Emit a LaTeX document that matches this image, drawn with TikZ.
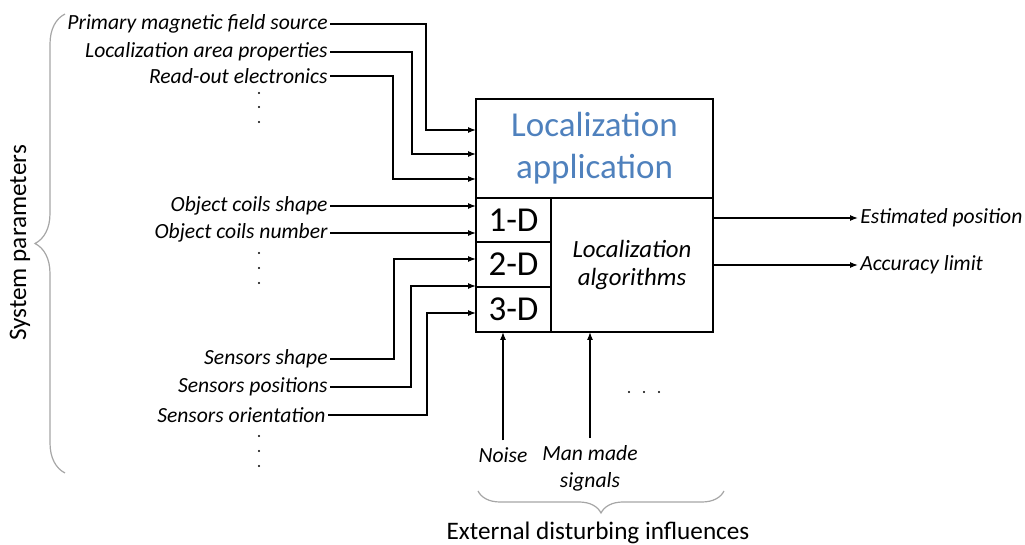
\documentclass[tikz,border=0pt]{standalone}
\usepackage{fontspec}
\setmainfont{Carlito}
\usetikzlibrary{arrows.meta,decorations.pathreplacing,fit}
\definecolor{appblue}{HTML}{4F81BD}
\definecolor{bracegray}{HTML}{A6A6A6}

\begin{document}
\begin{tikzpicture}[x=0.5pt,y=-0.5pt,>={Latex[length=4pt,width=3pt]},
                   every node/.style={font=\fontsize{10.8}{12}\selectfont\itshape},
                   param/.style={anchor=east,inner sep=1pt},
                   cell/.style={draw,line width=0.6pt,outer sep=0pt,inner sep=0pt,
                                font=\fontsize{17.5}{21}\selectfont},
                   link/.style={->,line width=0.6pt},
                   dot/.style={fill=black},
                   grouping/.style={draw=bracegray,line width=0.6pt,decorate,
                                    decoration={brace,amplitude=#1}},
                   caption/.style={font=\fontsize{12.6}{14}\selectfont}]
\useasboundingbox (0,0) rectangle (1025,545);

% the block and its parts
\node[cell,minimum width=118.5pt,minimum height=49.5pt,text=appblue,align=center]
  (app) at (594.5,148.5) {Localization\\application};
\node[cell,minimum width=37.5pt,minimum height=22pt] (d1) at (513.5,220) {1-D};
\node[cell,minimum width=37.5pt,minimum height=22.5pt] (d2) at (513.5,264.5) {2-D};
\node[cell,minimum width=37.5pt,minimum height=22.5pt] (d3) at (513.5,309.5) {3-D};
\node[cell,minimum width=81pt,minimum height=67pt,align=center,
      font=\fontsize{12.4}{14}\selectfont\itshape] (algo) at (632,265) {Localization\\algorithms};
\node[draw,line width=1pt,inner sep=0pt,fit=(app)(d3)(algo)] (frame) {};

\foreach \n/\y in {1/130,2/154,3/179,4/206,5/233,6/259,7/286,8/313}
  \coordinate (in\n) at (476,\y);

% system parameters
\node[param] (src) at (330,24) {Primary magnetic field source};
\node[param] (area) at (330,52) {Localization area properties};
\node[param] (elec) at (330,76) {Read-out electronics};
\node[param] (shape) at (330,206) {Object coils shape};
\node[param] (number) at (330,233) {Object coils number};
\node[param] (sshape) at (330,359) {Sensors shape};
\node[param] (spos) at (330,387) {Sensors positions};
\node[param] (sorient) at (328,415) {Sensors orientation};

\foreach \lbl/\dx/\tgt in {src/96/in1,area/82/in2,elec/63/in3,
                           sshape/64/in6,spos/81/in7,sorient/99/in8}
  \draw[link] (\lbl.east) -- ++(\dx,0) |- (\tgt);
\draw[link] (shape.east) -- (in4);
\draw[link] (number.east) -- (in5);

% more parameters
\foreach \y in {93,107,122,253,268,283,436,451,466}
  \fill[dot] (259,\y) circle (0.6pt);

\draw[grouping=15pt] (65,473) -- (65,14);
\node[caption,rotate=90] (sys) at (20,243) {System parameters};

% outputs
\coordinate (out1) at (713,218);
\coordinate (out2) at (713,265);
\node[anchor=west,inner sep=1pt] (est) at (858,218) {Estimated position};
\node[anchor=west,inner sep=1pt] (acc) at (858,265) {Accuracy limit};
\draw[link] (out1) -- (est.west);
\draw[link] (out2) -- (acc.west);

% disturbing influences
\coordinate (nz) at (503,332);
\coordinate (mm) at (590,332);
\node (noise) at (503,455) {Noise};
\node[align=center,font=\fontsize{10.8}{13.5}\selectfont\itshape] (manmade) at (590,468) {Man made\\signals};
\draw[link] (noise.north) -- (nz);
\draw[link] (manmade.north) -- (mm);
\foreach \x in {629,644,659}
  \fill[dot] (\x,392) circle (0.6pt);

\draw[grouping=11pt] (724,491) -- (478,491);
\node[caption] (ext) at (598,533) {External disturbing influences};
\end{tikzpicture}
\end{document}
